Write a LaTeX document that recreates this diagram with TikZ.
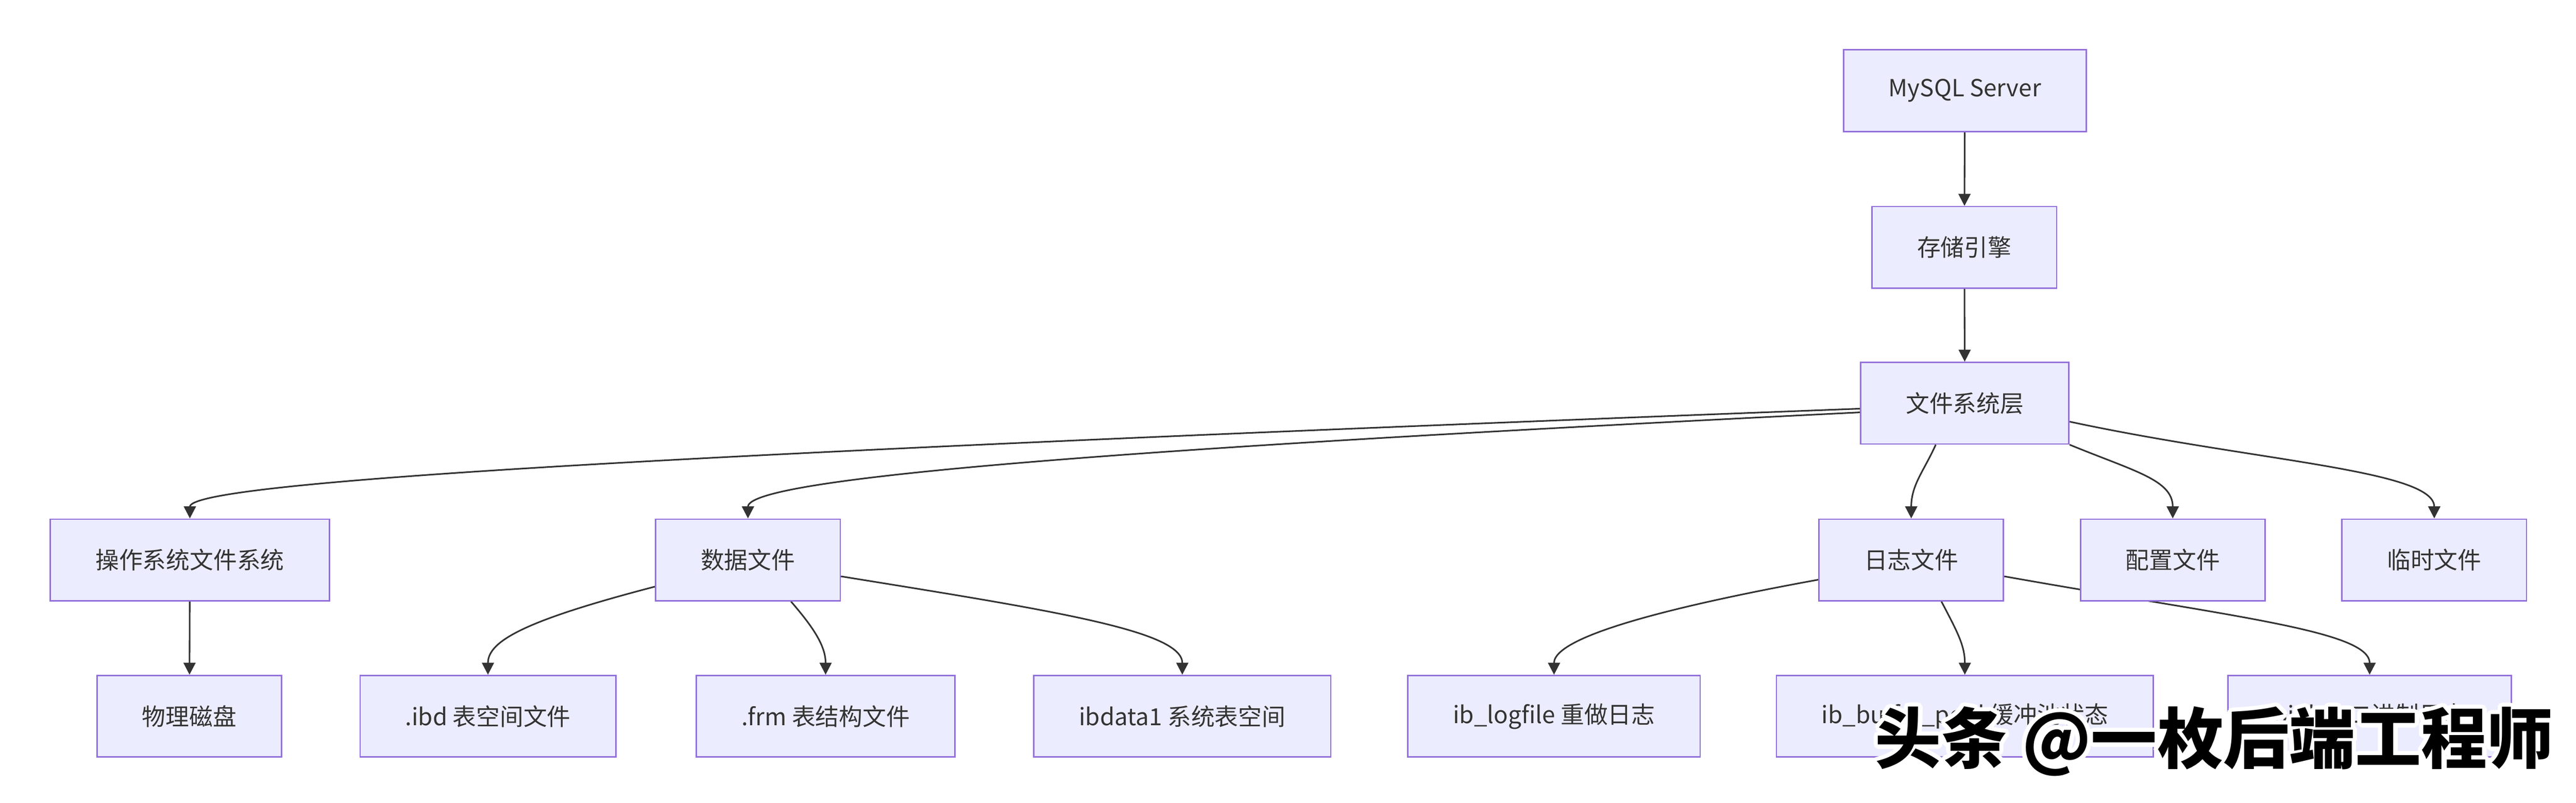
\documentclass[tikz,border=0pt]{standalone}
\usepackage{fontspec}
\setmainfont{Noto Sans CJK SC}
\usepackage[copies]{contour}
\contourlength{2.5pt}
\usetikzlibrary{arrows.meta,backgrounds}
\definecolor{boxfill}{HTML}{ECECFF}
\definecolor{boxline}{HTML}{9370DB}
\definecolor{linkcol}{HTML}{333333}
\tikzset{
    box/.style={draw=boxline,fill=boxfill,line width=0.8pt,
        minimum height=1.63cm,inner xsep=0.9cm,inner ysep=0pt,
        font=\fontsize{13.4pt}{16pt}\selectfont,text=linkcol},
    link/.style={draw=linkcol,line width=0.9pt,
        -{Triangle[length=0.24cm,width=0.24cm]}}
}

\begin{document}
\begin{tikzpicture}
    
    \useasboundingbox (0,0) rectangle (51.42,-16.03);
    
    % top column
    \node[box] (mysql) at (39.22,-1.81) {MySQL Server};
    \node[box] (engine) at (39.21,-4.94) {存储引擎};
    \node[box] (fs) at (39.22,-8.05) {文件系统层};
    
    % second row
    \node[box] (os) at (3.79,-11.18) {操作系统文件系统};
    \node[box] (data) at (14.93,-11.18) {数据文件};
    \node[box] (log) at (38.15,-11.18) {日志文件};
    \node[box] (config) at (43.37,-11.18) {配置文件};
    \node[box] (temp) at (48.59,-11.18) {临时文件};
    
    % third row
    \node[box] (disk) at (3.78,-14.30) {物理磁盘};
    \node[box] (ibd) at (9.74,-14.30) {.ibd 表空间文件};
    \node[box] (frm) at (16.48,-14.30) {.frm 表结构文件};
    \node[box] (ibdata) at (23.60,-14.30) {ibdata1 系统表空间};
    \node[box] (logfile) at (31.02,-14.30) {ib\_logfile 重做日志};
    \node[box] (buffer) at (39.22,-14.30) {ib\_buffer\_pool 缓冲池状态};
    \node[box] (binlog) at (47.30,-14.30) {binlog 二进制日志};
    
    \begin{scope}[on background layer]
    
    % straight links
    \draw[link] (mysql) -- (engine);
    \draw[link] (engine) -- (fs);
    \draw[link] (os) -- (disk);
    
    % links out of the file system layer
    \draw[link] (fs.183) .. controls +(-22.12,-0.84) and +(0,0.77) .. (os.north);
    \draw[link] (fs.185) .. controls +(-13.12,-0.65) and +(0,0.87) .. (data.north);
    \draw[link] (fs.235) .. controls +(-0.24,-0.53) and +(0,0.67) .. (log.north);
    \draw[link] (fs.south east) .. controls +(1.29,-0.53) and +(0,0.77) .. (config.north);
    \draw[link] (fs.350) .. controls +(3.68,-0.79) and +(0,0.97) .. (temp.north);
    
    % data files
    \draw[link] (data.196) .. controls +(-2.57,-0.67) and +(0,0.68) .. (ibd.north);
    \draw[link] (data.316) .. controls +(0.44,-0.51) and +(0,0.58) .. (frm.north);
    \draw[link] (data.350) .. controls +(4.2,-0.68) and +(0,0.88) .. (ibdata.north);
    
    % log files
    \draw[link] (log.192) .. controls +(-2.8,-0.51) and +(0,0.78) .. (logfile.north);
    \draw[link] (log.306) .. controls +(0.32,-0.61) and +(0,0.58) .. (buffer.north);
    \draw[link] (log.350) .. controls +(4.49,-0.8) and +(0,0.88) .. (binlog.north);
    
    \end{scope}
    
    % watermark
    \node[font=\fontsize{37.5pt}{40pt}\selectfont\bfseries,text=black] (mark) at (44.2,-14.85) {\contour{white}{头条 @一枚后端工程师}};
\end{tikzpicture}
\end{document}
